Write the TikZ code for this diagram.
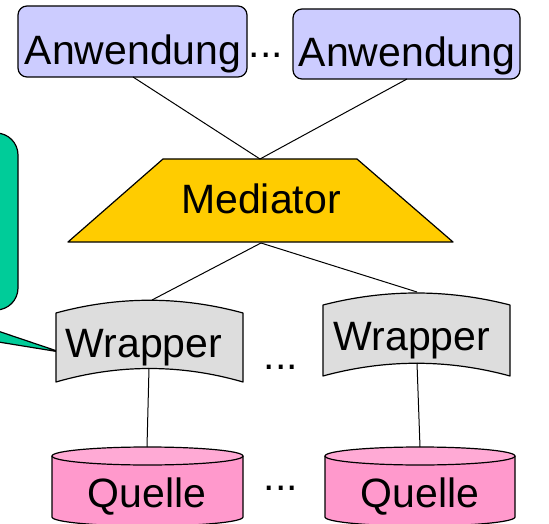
\documentclass[tikz,border=0pt]{standalone}
\usepackage{fontspec}
\setmainfont{Liberation Sans}

\definecolor{anwcol}{HTML}{CCCCFF}
\definecolor{medcol}{HTML}{FFCC00}
\definecolor{wrapcol}{HTML}{DDDDDD}
\definecolor{quellecol}{HTML}{FF99CC}
\definecolor{quelletop}{HTML}{FFAAD5}
\definecolor{notecol}{HTML}{00CC99}

\tikzset{
  outline/.style={draw, line width=1.2pt, line join=round},
  anwbox/.style={outline, fill=anwcol, rounded corners=9pt},
  medshape/.style={outline, fill=medcol},
  wrapshape/.style={outline, fill=wrapcol},
  qbody/.style={outline, fill=quellecol},
  qtop/.style={outline, fill=quelletop},
  noteshape/.style={outline, fill=notecol},
  lbl/.style={anchor=base, inner sep=0pt, font=\fontsize{41}{48}\selectfont},
  link/.style={draw, line width=1pt}
}

\begin{document}
\begin{tikzpicture}[x=1pt,y=-1pt]
\useasboundingbox (0,0) rectangle (549,524);
\clip (0,0) rectangle (549,524);

% note (cut off at the left)
\draw[noteshape, rounded corners=22pt] (-60,133) rectangle (18,310);
\draw[noteshape] (-20,325) -- (60,352) -- (-20,339) -- cycle;

% applications
\draw[anwbox] (18,6) rectangle (247,77);
\draw[anwbox] (293,9) rectangle (520,79);
\node[lbl] (anw1) at (133,65) {Anwendung};
\node[lbl] (anw2) at (407,67) {Anwendung};
\node[lbl] (dotsA) at (266,58) {...};
\coordinate (anw1s) at (133,77);
\coordinate (anw2s) at (407,79);

% mediator
\draw[medshape] (163,159) -- (357,159) -- (453,242) -- (68,242) -- cycle;
\node[lbl] (med) at (261,213) {Mediator};
\coordinate (medn) at (260,159);
\coordinate (meds) at (261,243);

% wrappers
\draw[wrapshape] (56,313) .. controls (118,296) and (181,296) .. (243,313)
  -- (243,382) .. controls (181,364) and (118,364) .. (56,382) -- cycle;
\draw[wrapshape] (323,305) .. controls (385,289) and (448,289) .. (510,305)
  -- (510,376) .. controls (448,359) and (385,359) .. (323,376) -- cycle;
\node[lbl] (wrap1) at (144,357) {Wrapper};
\node[lbl] (wrap2) at (412,350) {Wrapper};
\node[lbl] (dotsW) at (281,369) {...};
\coordinate (wrap1n) at (152,300);
\coordinate (wrap1s) at (149,368);
\coordinate (wrap2n) at (417,292);
\coordinate (wrap2s) at (417,363);

% sources
\draw[qbody] (52,456) -- (52,517) arc[start angle=180, end angle=0, x radius=95.5, y radius=9] -- (243,456);
\draw[qtop] (147.5,456) ellipse [x radius=95.5, y radius=9];
\draw[qbody] (325,456) -- (325,517) arc[start angle=180, end angle=0, x radius=95, y radius=9] -- (515,456);
\draw[qtop] (420,456) ellipse [x radius=95, y radius=9];
\node[lbl] (quelle1) at (147,507) {Quelle};
\node[lbl] (quelle2) at (420,507) {Quelle};
\node[lbl] (dotsQ) at (281,490) {...};
\coordinate (quelle1n) at (147,447);
\coordinate (quelle2n) at (420,447);

% connectors
\draw[link] (anw1s) -- (medn);
\draw[link] (anw2s) -- (medn);
\draw[link] (meds) -- (wrap1n);
\draw[link] (meds) -- (wrap2n);
\draw[link] (wrap1s) -- (quelle1n);
\draw[link] (wrap2s) -- (quelle2n);
\end{tikzpicture}
\end{document}
